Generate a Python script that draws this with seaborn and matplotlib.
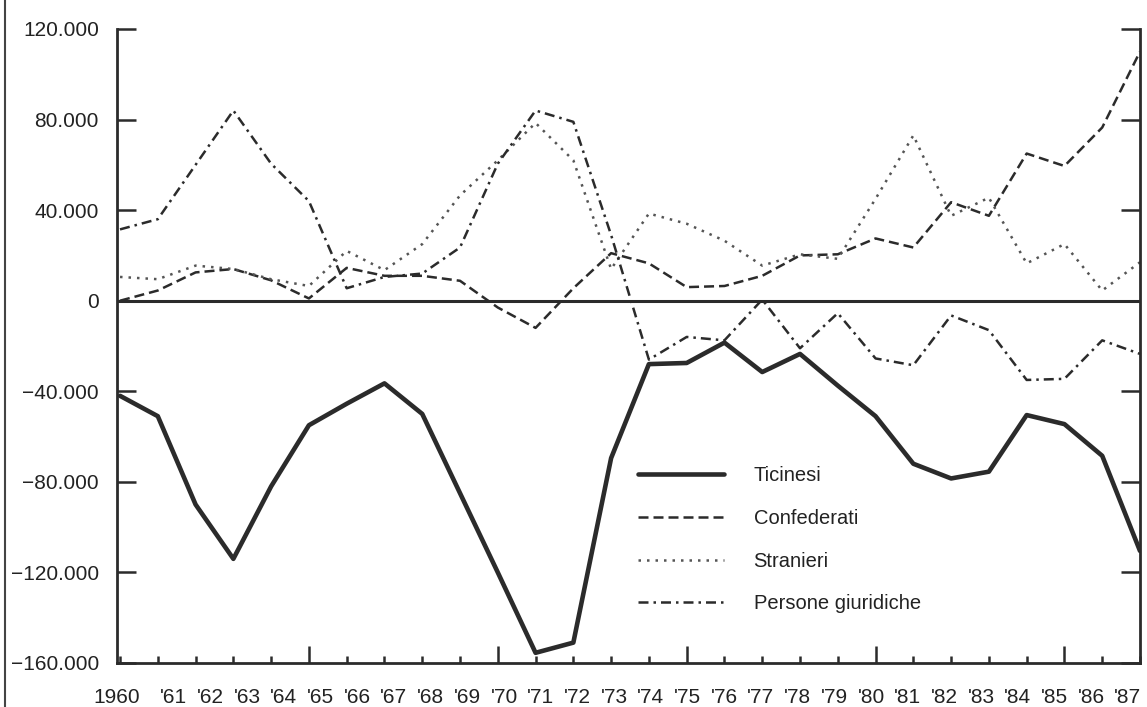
import matplotlib
matplotlib.use("Agg")
import matplotlib.pyplot as plt
from matplotlib.lines import Line2D
from matplotlib.ticker import FuncFormatter
import pandas as pd
import seaborn as sns

# values (saldo annuo)
anni = list(range(1960, 1988))
ticinesi = [-42000, -51000, -90000, -114000, -82000, -55000, -45500, -36500,
            -50000, -85000, -120000, -155500, -151000, -69500, -28000, -27500,
            -18500, -31500, -23500, -37500, -51000, -72000, -78500, -75500,
            -50500, -54500, -68500, -110500]
confederati = [0, 4500, 12500, 14000, 9000, 1000, 14500, 11000, 11000, 8800,
               -3000, -12000, 5500, 21000, 16500, 6000, 6500, 11000, 20000,
               20500, 27500, 23500, 43500, 37500, 65000, 59500, 76500, 110000]
stranieri = [10500, 9500, 15500, 14000, 9500, 6500, 22000, 13500, 25000,
             46500, 62000, 78500, 62000, 14000, 38500, 34000, 26500, 15500,
             20500, 18500, 45000, 73000, 37500, 45500, 16500, 25000, 4500,
             17000]
persone = [31500, 36000, 60000, 84000, 60500, 44000, 5500, 10500, 12000,
           23500, 60500, 84000, 79000, 29000, -26000, -16000, -17500, 500,
           -21000, -5500, -25500, -28500, -6500, -13000, -35000, -34500,
           -17500, -23500]

y_ticks = [120000, 80000, 40000, 0, -40000, -80000, -120000, -160000]
x_labels = ["1960"] + ["'%02d" % (a % 100) for a in anni[1:]]

df = pd.DataFrame({"anno": anni, "Ticinesi": ticinesi,
                   "Confederati": confederati, "Stranieri": stranieri,
                   "Persone giuridiche": persone})

sns.set_style("ticks")
plt.rcParams["font.family"] = ["Liberation Sans", "DejaVu Sans"]

fig = plt.figure(figsize=(11.47, 7.07), dpi=100)
ax = fig.add_axes([117 / 1147, 44 / 707, 1023 / 1147, 634 / 707])

ink = "#2b2b2b"
stili = {
    "Ticinesi": dict(lw=3.3, linestyle="-", color=ink),
    "Confederati": dict(lw=1.8, linestyle=(0, (4, 2)), color=ink),
    "Stranieri": dict(lw=1.8, linestyle=(0, (1, 2.4)), color="#555555"),
    "Persone giuridiche": dict(lw=1.8, linestyle=(0, (4, 2, 1, 2)), color=ink),
}
for serie, st in stili.items():
    sns.lineplot(data=df, x="anno", y=serie, ax=ax, label=serie, **st)

ax.axhline(0, color=ink, lw=2.2, zorder=1)

ax.set_xlim(1960, 1987)
ax.set_ylim(-160000, 120000)
ax.set_xlabel("")
ax.set_ylabel("")

# spines: left, right, bottom
ax.spines["top"].set_visible(False)
for s in ["left", "right", "bottom"]:
    ax.spines[s].set_linewidth(2)
    ax.spines[s].set_color(ink)

# y axis
ax.set_yticks(y_ticks)
ax.yaxis.set_major_formatter(
    FuncFormatter(lambda v, p: f"{v:,.0f}".replace(",", ".").replace("-", "\u2212")))
ax.tick_params(axis="y", which="major", direction="in", length=14, width=1.8,
               color=ink, labelsize=15, pad=13, left=True, right=True,
               labelcolor="#222222")

# x axis: tick marks at each year, labels slightly shifted like the scan
ax.set_xticks(anni)
ax.set_xticklabels([])
ax.tick_params(axis="x", which="major", direction="in", length=5, width=1.8,
               color=ink)
for a, t in zip(anni, ax.xaxis.get_major_ticks()):
    if a % 5 == 0 and a != 1960:
        t.tick1line.set_markersize(12)
label_pos = [1960 - 0.08] + [a + 0.45 - 0.0285 * (a - 1960) for a in anni[1:]]
ax.set_xticks(label_pos, x_labels, minor=True)
ax.tick_params(axis="x", which="minor", length=0, labelsize=15, pad=18,
               labelcolor="#222222")

leg = ax.legend(loc="upper left", bbox_to_anchor=(0.509, 0.31), frameon=False,
                fontsize=14.5, handlelength=4.3, handletextpad=1.45,
                labelspacing=1.17, borderpad=0, borderaxespad=0)
for txt in leg.get_texts():
    txt.set_color("#222222")

# left edge of the scanned page
fig.add_artist(Line2D([5 / 1147, 5 / 1147], [0, 1], transform=fig.transFigure,
                      color="#444444", lw=1.5))

fig.savefig("out.png", dpi=100)
